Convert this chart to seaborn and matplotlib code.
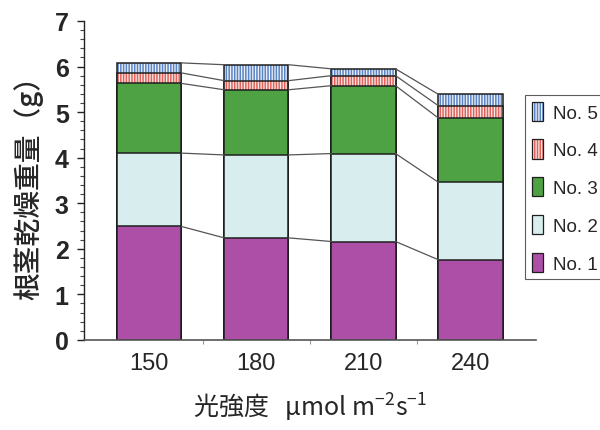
import matplotlib
matplotlib.use("Agg")
import matplotlib.pyplot as plt
from matplotlib.patches import Patch
from matplotlib.ticker import MultipleLocator, FixedLocator
import numpy as np
import pandas as pd
import seaborn as sns

# Light intensity levels (µmol m-2 s-1)
light = ["150", "180", "210", "240"]

# Root/stem dry weight (g) per plant position, stacked bottom to top
no1 = [2.49, 2.24, 2.16, 1.76]
no2 = [1.61, 1.82, 1.93, 1.70]
no3 = [1.53, 1.43, 1.49, 1.41]
no4 = [0.23, 0.20, 0.22, 0.27]
no5 = [0.22, 0.35, 0.15, 0.25]

series_names = ["No. 1", "No. 2", "No. 3", "No. 4", "No. 5"]
series_vals = [no1, no2, no3, no4, no5]

# face colour, hatch pattern, hatch colour
styles = {
    "No. 1": ("#ad4fa6", "", "#ad4fa6"),
    "No. 2": ("#d7edee", "", "#d7edee"),
    "No. 3": ("#4fa244", "", "#4fa244"),
    "No. 4": ("#fbe9e6", "||||||", "#e0625c"),
    "No. 5": ("#eef2fa", "||||||", "#5a84c4"),
}

tops = np.cumsum(np.array(series_vals), axis=0)
rows = []
for name, top in zip(series_names, tops):
    for lv, t in zip(light, top):
        rows.append({"light": lv, "series": name, "top": t})
df = pd.DataFrame(rows)

sns.set_style("ticks")
plt.rcParams["font.family"] = ["Liberation Sans", "DejaVu Sans"]
plt.rcParams["hatch.linewidth"] = 1.1
plt.rcParams["mathtext.default"] = "regular"

fig = plt.figure(figsize=(6, 4.31), dpi=100)
ax = fig.add_axes([0.14, 0.209, 0.753, 0.74])

bar_w = 0.6
# draw cumulative bars from the tallest down so each layer shows its own segment
for name in reversed(series_names):
    face, hatch, hcol = styles[name]
    sub = df[df["series"] == name]
    sns.barplot(data=sub, x="light", y="top", order=light, color=face,
                saturation=1, width=bar_w, errorbar=None, hatch=hatch,
                edgecolor=hcol, linewidth=0, ax=ax)
    sns.barplot(data=sub, x="light", y="top", order=light, color="#1e1e1e",
                fill=False, saturation=1, width=bar_w, errorbar=None,
                linewidth=1.1, ax=ax)

# connector lines between the tops of matching segments
for top in tops:
    for i in range(len(light) - 1):
        ax.plot([i + bar_w / 2, i + 1 - bar_w / 2], [top[i], top[i + 1]],
                color="#555555", lw=0.9, zorder=1)

ax.set_xlim(-0.61, 3.61)
ax.set_ylim(0, 7)
ax.yaxis.set_major_locator(MultipleLocator(1))
ax.yaxis.set_minor_locator(MultipleLocator(0.2))
ax.xaxis.set_minor_locator(FixedLocator([0.5, 1.5, 2.5]))

for s in ["top", "right"]:
    ax.spines[s].set_visible(False)
ax.spines["left"].set_color("#222222")
ax.spines["left"].set_linewidth(1.0)
ax.spines["bottom"].set_color("#555555")
ax.spines["bottom"].set_linewidth(1.2)

ax.tick_params(axis="y", which="major", direction="out", length=5, width=1,
               color="#222222", pad=6)
ax.tick_params(axis="y", which="minor", direction="out", length=3, width=0.8,
               color="#444444")
ax.tick_params(axis="x", which="major", length=0, pad=9)
ax.tick_params(axis="x", which="minor", direction="out", length=3, width=0.8,
               color="#999999")

for lab in ax.get_yticklabels():
    lab.set_fontsize(18)
    lab.set_fontweight("bold")
for lab in ax.get_xticklabels():
    lab.set_fontsize(17)

cjk = ["Noto Sans CJK JP", "DejaVu Sans"]
ax.set_xlabel("光強度   μmol m$^{-2}$s$^{-1}$", fontsize=18, family=cjk,
              labelpad=12)
ax.set_ylabel("根茎乾燥重量（g）", fontsize=20, family=cjk,
              fontweight="medium", labelpad=8)

# legend: coloured pattern underneath, black outline on top
handles = []
for name in series_names:
    face, hatch, hcol = styles[name]
    handles.append((Patch(facecolor=face, hatch=hatch, edgecolor=hcol, lw=0),
                    Patch(facecolor="none", edgecolor="#1e1e1e", lw=0.9)))
leg = fig.legend(handles[::-1], series_names[::-1], loc="upper left",
                 bbox_to_anchor=(0.875, 0.777), frameon=True, fancybox=False,
                 prop={"family": ["Liberation Sans", "DejaVu Sans"],
                       "size": 13.5},
                 handlelength=0.6, handleheight=1.2, labelspacing=0.95,
                 handletextpad=0.55, borderpad=0.35, borderaxespad=0)
leg.get_frame().set_edgecolor("#333333")
leg.get_frame().set_linewidth(0.8)

fig.savefig("out.png", dpi=100)
